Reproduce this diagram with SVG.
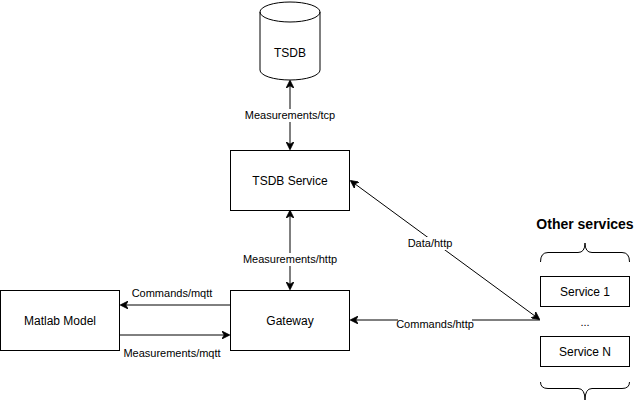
<svg xmlns="http://www.w3.org/2000/svg" width="636" height="401" viewBox="0 0 636 401">
<defs>
<style>
.box{fill:#fff;stroke:#000;stroke-width:1}
.t{font-family:"Liberation Sans",Arial,sans-serif;font-size:12px;fill:#000;text-anchor:middle}
.lbl{font-family:"Liberation Sans",Arial,sans-serif;font-size:11px;fill:#000;text-anchor:middle}
.ln{fill:none;stroke:#000;stroke-width:1}
.bg{fill:#fff}
</style>
<marker id="ah" viewBox="0 0 10 10" refX="9" refY="5" markerWidth="8" markerHeight="8" orient="auto-start-reverse" markerUnits="userSpaceOnUse">
<path d="M0,0 L10,5 L0,10 L3,5 Z" fill="#000" stroke="#000" stroke-width="1"/>
</marker>
</defs>
<rect width="636" height="401" fill="#fff"/>
<g id="connectors">
<line class="ln" x1="290" y1="81" x2="290" y2="149" marker-start="url(#ah)" marker-end="url(#ah)"/>
<rect class="bg" x="248" y="109" width="84" height="13"/>
<text class="lbl" x="290" y="119">Measurements/tcp</text>
<line class="ln" x1="290" y1="211" x2="290" y2="289" marker-start="url(#ah)" marker-end="url(#ah)"/>
<rect class="bg" x="243" y="253" width="94" height="13"/>
<text class="lbl" x="290" y="263">Measurements/http</text>
<line class="ln" x1="230" y1="305" x2="121" y2="305" marker-end="url(#ah)"/>
<text class="lbl" x="172" y="297">Commands/mqtt</text>
<line class="ln" x1="120" y1="335" x2="229" y2="335" marker-end="url(#ah)"/>
<text class="lbl" x="172" y="357">Measurements/mqtt</text>
<line class="ln" x1="351" y1="181" x2="539" y2="319" marker-start="url(#ah)" marker-end="url(#ah)"/>
<rect class="bg" x="406" y="237" width="48" height="13"/>
<text class="lbl" x="430" y="247">Data/http</text>
<line class="ln" x1="540" y1="320" x2="351" y2="320" marker-end="url(#ah)"/>
<rect class="bg" x="398" y="318" width="74" height="12"/>
<text class="lbl" x="435" y="328">Commands/http</text>
</g>
<g id="tsdb">
<path class="box" d="M260,12 A30,10 0 0 1 320,12 L320,70 A30,10 0 0 1 260,70 Z"/>
<path class="ln" d="M260,12 A30,10 0 0 0 320,12"/>
<text class="t" x="290" y="57">TSDB</text>
</g>
<g id="tsdb-service">
<rect class="box" x="230.5" y="150.5" width="119" height="60"/>
<text class="t" x="290" y="185">TSDB Service</text>
</g>
<g id="gateway">
<rect class="box" x="230.5" y="290.5" width="119" height="60"/>
<text class="t" x="290" y="325">Gateway</text>
</g>
<g id="matlab-model">
<rect class="box" x="0.5" y="290.5" width="119" height="60"/>
<text class="t" x="60" y="325">Matlab Model</text>
</g>
<g id="other-services">
<text class="t" x="585" y="229" style="font-weight:bold;font-size:14px">Other services</text>
<path class="ln" d="M540.5,262 Q540.5,252.5 548,252.5 L578,252.5 Q585,252.5 585,243 Q585,252.5 592,252.5 L622,252.5 Q629.5,252.5 629.5,262"/>
<path class="ln" d="M540.5,382 Q540.5,388.5 548,388.5 L578,388.5 Q585,388.5 585,400 Q585,388.5 592,388.5 L622,388.5 Q629.5,388.5 629.5,382"/>
</g>
<g id="service-1">
<rect class="box" x="540.5" y="276.5" width="89" height="30"/>
<text class="t" x="585" y="296">Service 1</text>
</g>
<g id="ellipsis">
<text class="lbl" x="585" y="326">...</text>
</g>
<g id="service-n">
<rect class="box" x="540.5" y="336.5" width="89" height="30"/>
<text class="t" x="585" y="356">Service N</text>
</g>
</svg>
